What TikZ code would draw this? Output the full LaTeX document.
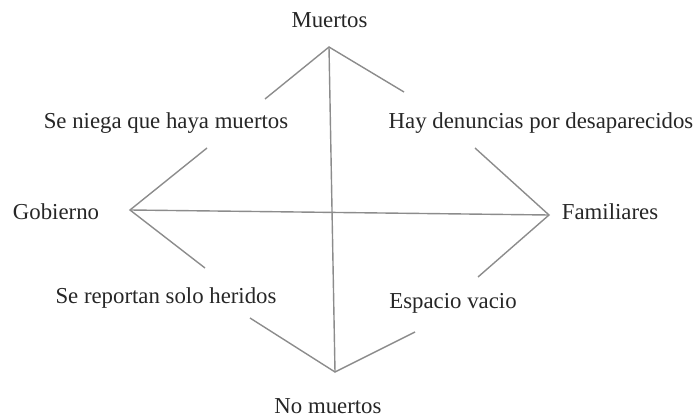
\documentclass[tikz,border=0pt]{standalone}
\usepackage{fontspec}
\setmainfont{Liberation Serif}
\begin{document}
\begin{tikzpicture}[x=1pt,y=-1pt,
  lbl/.style={inner sep=0pt,font=\fontsize{22.8}{26}\selectfont,text=black!85},
  ln/.style={draw=black!45,line width=1.4pt}]
\useasboundingbox (0,0) rectangle (696,417);
% apexes
\coordinate (top) at (329,47);
\coordinate (bot) at (335,372);
\coordinate (lft) at (130,210);
\coordinate (rgt) at (549,215);
% free ends
\coordinate (t1) at (265,99);
\coordinate (t2) at (404,92);
\coordinate (l1) at (207,148);
\coordinate (l2) at (205,268);
\coordinate (r1) at (475,148);
\coordinate (r2) at (478,277);
\coordinate (b1) at (250,318);
\coordinate (b2) at (415,332);
% labels
\node[lbl] (muertos) at (329.5,20) {Muertos};
\node[lbl] (niega) at (166,123) {Se niega que haya muertos};
\node[lbl] (denuncias) at (541,123) {Hay denuncias por desaparecidos};
\node[lbl] (gob) at (56,212) {Gobierno};
\node[lbl] (fam) at (610,212) {Familiares};
\node[lbl] (reportan) at (166,298) {Se reportan solo heridos};
\node[lbl] (vacio) at (453,303) {Espacio vacio};
\node[lbl] (nomuertos) at (328,406) {No muertos};
% lines
\draw[ln] (top) -- (bot);
\draw[ln] (lft) -- (rgt);
\draw[ln] (t1) -- (top) -- (t2);
\draw[ln] (l1) -- (lft) -- (l2);
\draw[ln] (r1) -- (rgt) -- (r2);
\draw[ln] (b1) -- (bot) -- (b2);
\end{tikzpicture}
\end{document}
